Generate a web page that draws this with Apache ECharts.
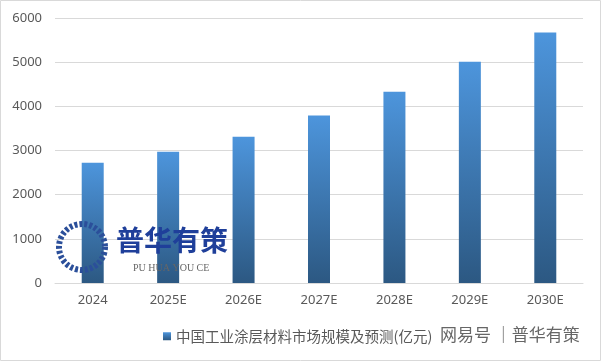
<!DOCTYPE html>
<html><head><meta charset="utf-8">
<script src="https://cdn.jsdelivr.net/npm/echarts@6/dist/echarts.min.js"></script>
<style>html,body{margin:0;padding:0;background:#fff}#c{width:601px;height:361px}</style>
</head><body><div id="c"></div>
<script>
var categories = ['2024','2025E','2026E','2027E','2028E','2029E','2030E'];
var values = [2720, 2970, 3310, 3790, 4330, 5010, 5670];
var yTicks = [0, 1000, 2000, 3000, 4000, 5000, 6000];
var seriesName = '中国工业涂层材料市场规模及预测(亿元)';

var chart = echarts.init(document.getElementById('c'));
var grad = new echarts.graphic.LinearGradient(0,0,0,1,[{offset:0,color:'#4d95dc'},{offset:1,color:'#2c5882'}]);
chart.setOption({
  animation:false,
  grid:{left:55,right:18,top:18,bottom:78},
  legend:{left:158,top:324,itemWidth:8,itemHeight:8,itemGap:5,icon:'rect',
    textStyle:{color:'#595959',fontSize:14.5,fontFamily:'Noto Sans CJK SC'},data:[seriesName]},
  xAxis:{type:'category',data:categories,
    axisLine:{lineStyle:{color:'#d9d9d9'}},axisTick:{show:false},
    axisLabel:{color:'#595959',fontSize:13,margin:11,fontFamily:'Noto Sans'}},
  yAxis:{type:'value',min:yTicks[0],max:yTicks[yTicks.length-1],interval:1000,
    axisLine:{show:false},axisTick:{show:false},
    splitLine:{lineStyle:{color:'#d9d9d9'}},
    axisLabel:{color:'#595959',fontSize:13,margin:13,fontFamily:'Noto Sans',formatter:function(v){return String(v);}}},
  series:[{name:seriesName,type:'bar',data:values,barWidth:22,
    itemStyle:{color:grad}}],
  graphic:[
    {type:'rect',shape:{x:0.5,y:0.5,width:600,height:360},style:{fill:'none',stroke:'#d9d9d9',lineWidth:1},silent:true},
    {type:'circle',shape:{cx:82,cy:247,r:23},style:{fill:'none',stroke:'#2b4f9a',lineWidth:6,lineDash:[3,2]},z:100},
    {type:'text',left:116,top:226,style:{text:'普华有策',fill:'#1f3f9a',font:'bold 28px "Noto Sans CJK SC"'},z:100},
    {type:'text',left:133,top:263,style:{text:'PU HUA YOU CE',fill:'#666',font:'10px "Liberation Serif"'},z:100},
    {type:'text',left:440,top:326,style:{text:'网易号 ｜普华有策',fill:'#666',font:'17px "Noto Sans CJK SC"'},z:100}
  ]
});
</script></body></html>
